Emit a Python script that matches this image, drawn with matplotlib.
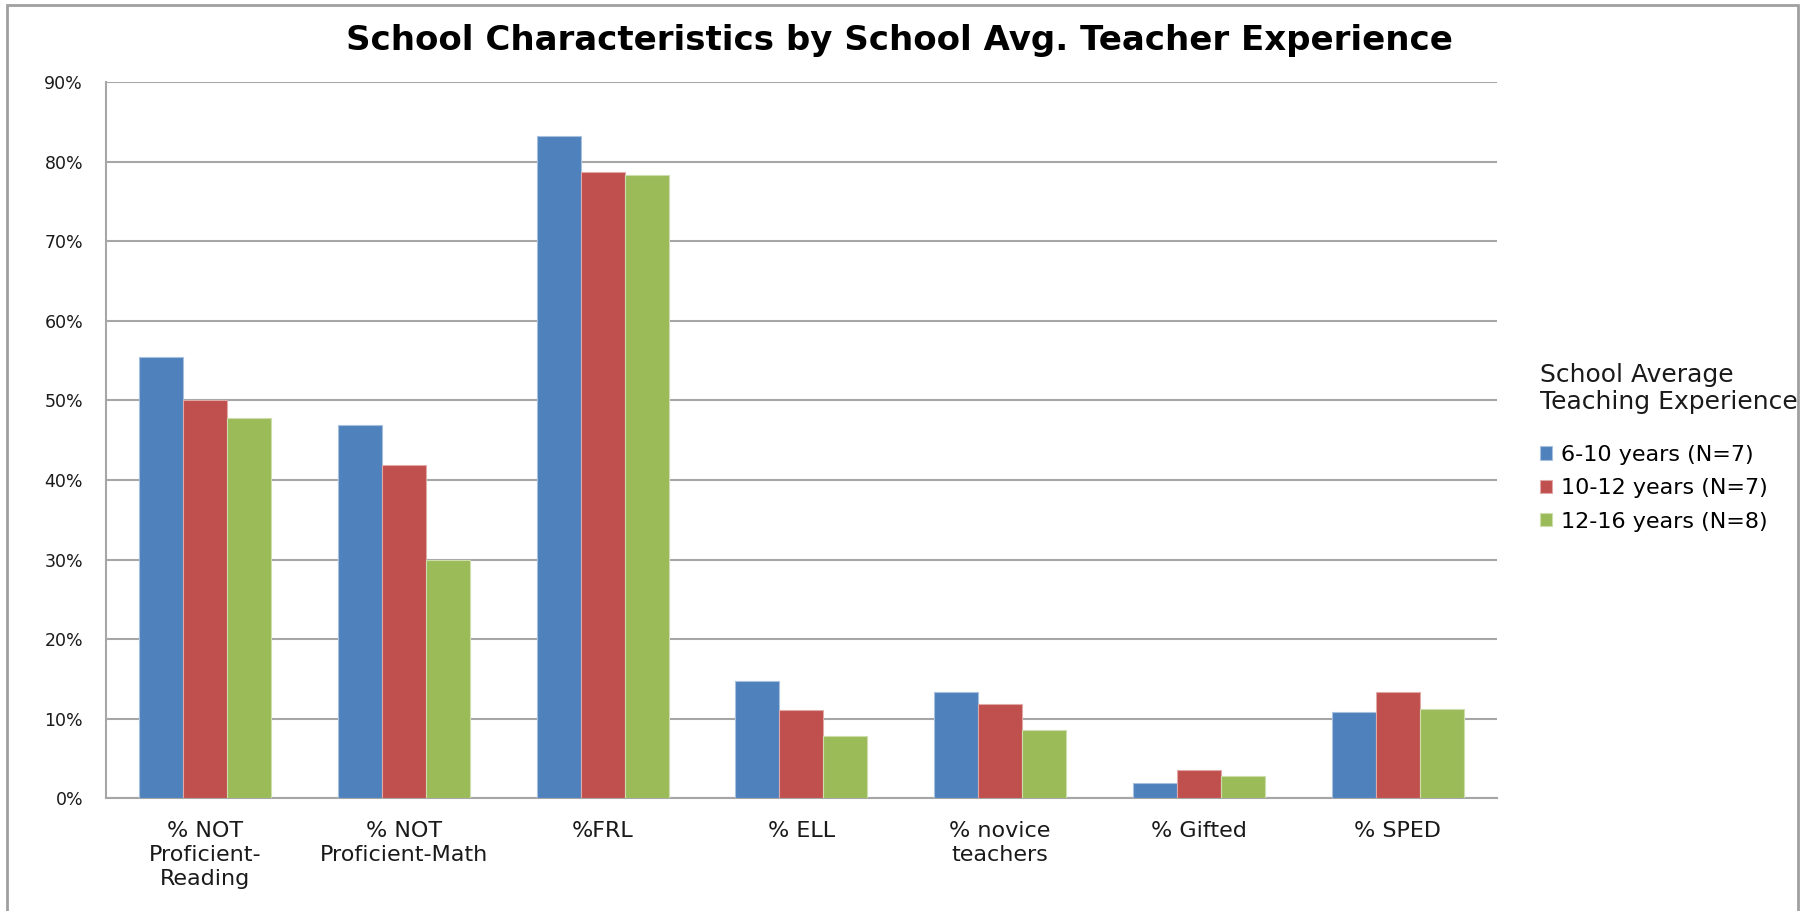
import numpy as np
import matplotlib.pyplot as plt
from matplotlib.patches import Rectangle

categories = ["% NOT\nProficient-\nReading", "% NOT\nProficient-Math", "%FRL", "% ELL",
              "% novice\nteachers", "% Gifted", "% SPED"]
series_names = ["6-10 years (N=7)", "10-12 years (N=7)", "12-16 years (N=8)"]
exp_6_10 = [55.4, 46.9, 83.2, 14.7, 13.4, 1.9, 10.9]
exp_10_12 = [50.0, 41.9, 78.7, 11.1, 11.8, 3.6, 13.3]
exp_12_16 = [47.8, 29.9, 78.3, 7.8, 8.6, 2.8, 11.2]
colors = ["#4F81BD", "#C0504D", "#9BBB59"]
edges = ["#A7C0DE", "#E0A8A6", "#CDDDAC"]

plt.rcParams['font.family'] = ['DejaVu Sans']
GRID = "#A6A6A6"
TXT = "#1a1a1a"

fig = plt.figure(figsize=(18.2, 9.11), dpi=100)
ax = fig.add_axes([0.0582, 0.1237, 0.7643, 0.7864])

x = np.arange(len(categories))
w = 0.664 / 3
for i, (vals, name) in enumerate(zip([exp_6_10, exp_10_12, exp_12_16], series_names)):
    ax.bar(x + (i - 1) * w, vals, width=w, color=colors[i], edgecolor=edges[i],
           linewidth=0.8, label=name, zorder=3)

ax.set_xlim(-0.5, len(categories) - 0.5)
ax.set_ylim(0, 90)
ax.set_yticks(np.arange(0, 91, 10))
ax.set_yticklabels([f"{v}%" for v in range(0, 91, 10)], fontsize=12.5, color=TXT)
ax.set_xticks(x)
ax.set_xticklabels(categories, fontsize=16, linespacing=1.27, color=TXT)
ax.tick_params(axis="both", length=0)
ax.tick_params(axis="y", pad=16.5)
ax.tick_params(axis="x", pad=16)
ax.yaxis.grid(True, color=GRID, linewidth=1.5, zorder=0)
ax.set_axisbelow(True)
for s in ["top", "right"]:
    ax.spines[s].set_visible(False)
for s in ["left", "bottom"]:
    ax.spines[s].set_color(GRID)
    ax.spines[s].set_linewidth(1.5)

fig.suptitle("School Characteristics by School Avg. Teacher Experience",
             x=0.494, y=0.955, fontsize=24.5, fontweight="bold", va="center")

leg = ax.legend(title="School Average\nTeaching Experience", loc="upper left",
                bbox_to_anchor=(0.846, 0.602), bbox_transform=fig.transFigure,
                frameon=False, fontsize=16, title_fontsize=18, alignment="left",
                handlelength=0.55, handleheight=0.55, handletextpad=0.4,
                labelspacing=0.6, borderpad=0, borderaxespad=0)
leg.get_title().set_color(TXT)
leg.get_title().set_linespacing(1.2)
leg._legend_box.sep = 22

# outer chart frame
fig.patches.append(Rectangle((7 / 1820, -0.05), (1798 - 7) / 1820, 1.05 - 5 / 911,
                             transform=fig.transFigure, fill=False,
                             edgecolor="#A0A0A0", linewidth=2))

fig.savefig("out.png", dpi=100)
